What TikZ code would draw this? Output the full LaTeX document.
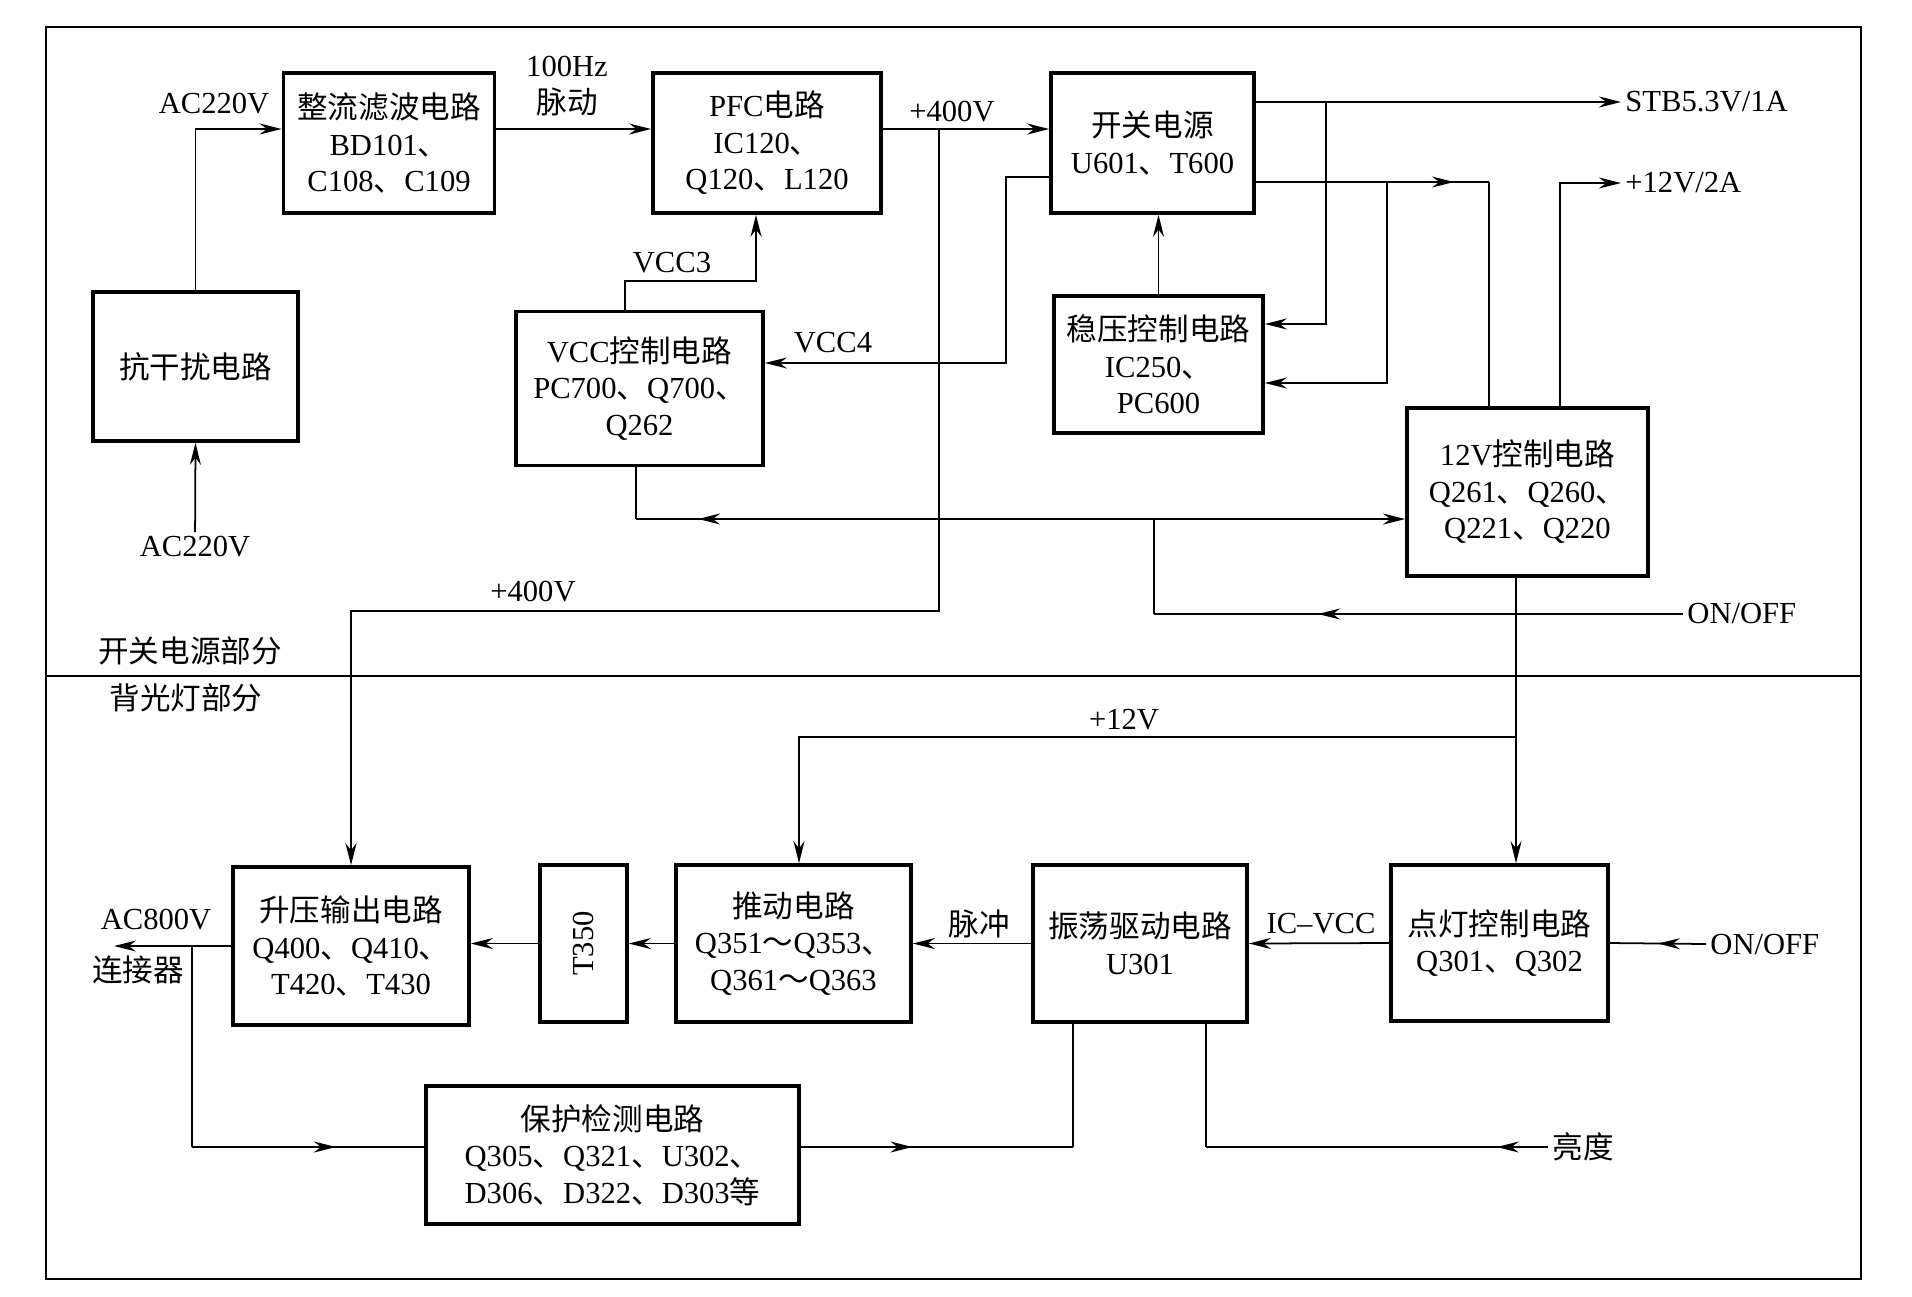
\documentclass[tikz,border=0pt]{standalone}
\usepackage{fontspec}
\setmainfont{Liberation Serif}
\newfontfamily\cjk{Noto Sans CJK SC}
\newcommand\zh[1]{{\cjk #1}}
\usetikzlibrary{arrows.meta,decorations.markings}

\begin{document}
\begin{tikzpicture}[x=0.01cm,y=-0.01cm,
  >={Stealth[length=2.2mm,width=1.1mm]},
  line width=0.5pt,
  every node/.style={font=\fontsize{8.7}{10.4}\selectfont},
  box/.style 2 args={draw,line width=1pt,inner sep=0pt,align=center,
    minimum width=#1,minimum height=#2},
  lbl/.style={inner sep=1pt,align=center},
  midarrow/.style={postaction={decorate},
    decoration={markings,mark=at position #1 with {\arrow{>}}}}]
  \useasboundingbox (0,0) rectangle (1912,1296);

  % frame
  \draw (46,27) rectangle (1861,1279);
  \draw (46,676) -- (1861,676);
  \node[lbl] (top) at (190,651) {\zh{开关电源部分}};
  \node[lbl] (bot) at (186,698) {\zh{背光灯部分}};

  % blocks
  \node[box={2.05cm}{1.49cm}] (kgr) at (195.5,366.5) {\zh{抗干扰电路}};
  \node[box={2.11cm}{1.40cm}] (zl) at (389,143) {\zh{整流滤波电路}\\BD101\zh{、}\\C108\zh{、}C109};
  \node[box={2.28cm}{1.40cm}] (pfc) at (767,143) {PFC\zh{电路}\\IC120\zh{、}\\Q120\zh{、}L120};
  \node[box={2.03cm}{1.40cm}] (kg) at (1152.5,143) {\zh{开关电源}\\U601\zh{、}T600};
  \node[box={2.47cm}{1.54cm}] (vcc) at (639.5,388.5) {VCC\zh{控制电路}\\PC700\zh{、}Q700\zh{、}\\Q262};
  \node[box={2.09cm}{1.37cm}] (wy) at (1158.5,364.5) {\zh{稳压控制电路}\\IC250\zh{、}\\PC600};
  \node[box={2.41cm}{1.68cm}] (v12) at (1527.5,492) {12V\zh{控制电路}\\Q261\zh{、}Q260\zh{、}\\Q221\zh{、}Q220};
  \node[box={2.36cm}{1.58cm}] (sy) at (351,946) {\zh{升压输出电路}\\Q400\zh{、}Q410\zh{、}\\T420\zh{、}T430};
  \node[box={0.87cm}{1.57cm}] (t350) at (583.5,943.5) {\rotatebox{90}{T350}};
  \node[box={2.35cm}{1.57cm}] (td) at (793.5,943.5) {\zh{推动电路}\\Q351\zh{～}Q353\zh{、}\\Q361\zh{～}Q363};
  \node[box={2.14cm}{1.57cm}] (zd) at (1140,943.5) {\zh{振荡驱动电路}\\U301};
  \node[box={2.17cm}{1.56cm}] (dd) at (1499.5,943) {\zh{点灯控制电路}\\Q301\zh{、}Q302};
  \node[box={3.73cm}{1.38cm}] (bh) at (612.5,1155) {\zh{保护检测电路}\\Q305\zh{、}Q321\zh{、}U302\zh{、}\\D306\zh{、}D322\zh{、}D303\zh{等}};

  % labels
  \node[lbl] (ac1) at (214,104) {AC220V};
  \node[lbl] (ac2) at (195,547) {AC220V};
  \node[lbl] (hz) at (567,86) {100Hz\\\zh{脉动}};
  \node[lbl] (v400a) at (952,112) {+400V};
  \node[lbl] (v400b) at (533,592) {+400V};
  \node[lbl] (vc3) at (672,263) {VCC3};
  \node[lbl] (vc4) at (833,343) {VCC4};
  \node[lbl,anchor=west] (stb) at (1621,102) {STB5.3V/1A};
  \node[lbl,anchor=west] (p12) at (1621,183) {+12V/2A};
  \node[lbl,anchor=west] (on1) at (1683,614) {ON/OFF};
  \node[lbl] (p12b) at (1124,720) {+12V};
  \node[lbl] (mc) at (979,924) {\zh{脉冲}};
  \node[lbl] (icv) at (1321,924) {IC--VCC};
  \node[lbl,anchor=west] (on2) at (1706,944) {ON/OFF};
  \node[lbl] (ac8) at (156,920) {AC800V};
  \node[lbl] (ljq) at (138,970) {\zh{连接器}};
  \node[lbl,anchor=west] (ld) at (1548,1147) {\zh{亮度}};

  % power part
  \draw[->] (ac2) -- (kgr.south);
  \draw[->] (kgr.north) |- ([yshift=1.4mm]zl.west);
  \draw[->] ([yshift=1.4mm]zl.east) -- ([yshift=1.4mm]pfc.west);
  \draw[->] ([yshift=1.4mm]pfc.east) -- ([yshift=1.4mm]kg.west);
  \coordinate (a1) at (939,129);
  \coordinate (a2) at (939,611);
  \draw[->] (a1) -- (a2) -| (sy.north);

  \draw[->] ([yshift=4.1mm]kg.east) -- (stb.west);
  \coordinate (s1) at (1326,102);
  \draw[->] (s1) |- ([yshift=4.05mm]wy.east);
  \coordinate (s2) at (1489,182);
  \coordinate (s3) at (1387,182);
  \draw[midarrow=0.85] ([yshift=-3.9mm]kg.east) -- (s2);
  \draw (s2) -- (s2 |- v12.north);
  \draw[->] (s3) |- ([yshift=-1.85mm]wy.east);
  \draw[->] (wy.north) -- (wy.north |- kg.south);

  \coordinate (v4) at (1006,363);
  \draw[->] ([yshift=-3.4mm]kg.west) -| (v4) -- ([yshift=2.55mm]vcc.east);
  \coordinate (v3) at (756,281);
  \draw[->] ([xshift=-1.45mm]vcc.north) |- (v3) -- (v3 |- pfc.south);

  \coordinate (o1) at (1154,519);
  \coordinate (o2) at (1154,614);
  \coordinate (o3) at (636,519);
  \draw[midarrow=0.69] (on1.west) -- (o2);
  \draw (o2) -- (o1);
  \draw[->] (o1) -- (o1 -| v12.west);
  \draw[midarrow=0.88] (o1) -- (o3);
  \draw (o3) -- (o3 |- vcc.south);
  \draw[->] ([xshift=3.25mm]v12.north) |- (p12.west);

  % backlight part
  \coordinate (b0) at (1516,737);
  \coordinate (b1) at (799,737);
  \draw[->] ([xshift=-1.15mm]v12.south) -- (b0) -- (b0 |- dd.north);
  \draw[->] (b0) -- (b1) -- (b1 |- td.north);

  \draw[midarrow=0.5] (on2.west) -- (dd.east);
  \draw[->] (dd.west) -- (zd.east);
  \draw[->] (zd.west) -- (td.east);
  \draw[->] (td.west) -- (t350.east);
  \draw[->] (t350.west) -- (t350.west -| sy.east);
  \coordinate (c0) at (114,946);
  \coordinate (k1) at (192,946);
  \coordinate (k2) at (192,1147);
  \draw[->] (sy.west) -- (c0);
  \draw (k1) -- (k2);
  \draw[midarrow=0.62] (k2) -- ([yshift=0.8mm]bh.west);
  \coordinate (z1) at (1073,1147);
  \draw[midarrow=0.41] ([yshift=0.8mm]bh.east) -- (z1);
  \draw (z1) -- (z1 |- zd.south);
  \coordinate (z2) at (1206,1147);
  \draw[midarrow=0.15] (ld.west) -- (z2);
  \draw (z2) -- (z2 |- zd.south);
\end{tikzpicture}
\end{document}
